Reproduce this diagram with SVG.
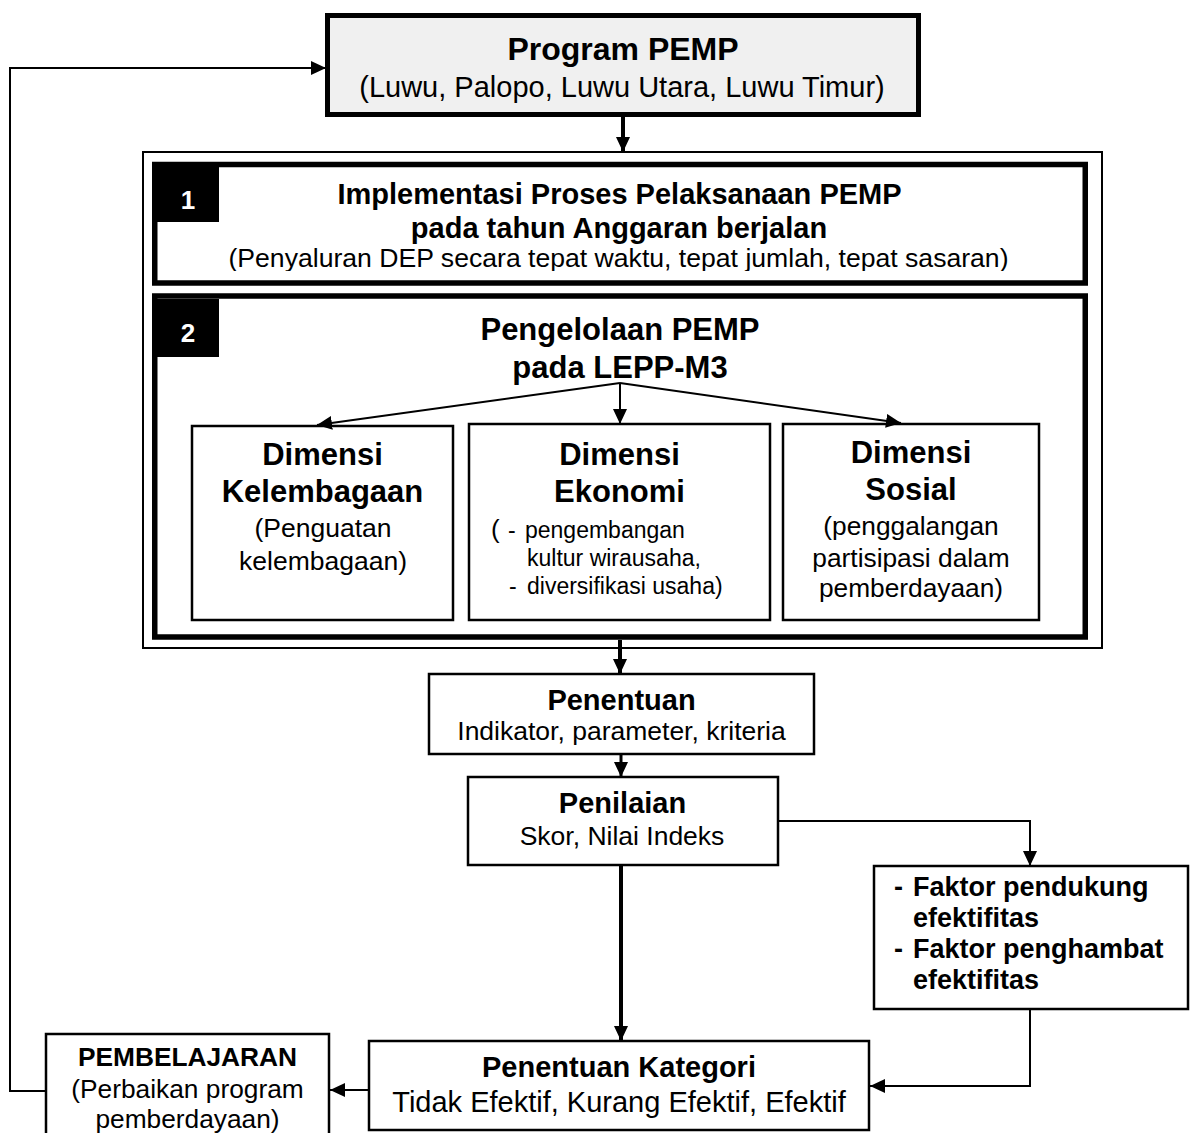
<svg xmlns="http://www.w3.org/2000/svg" width="1191" height="1133" viewBox="0 0 1191 1133">
<style>
text{font-family:"Liberation Sans",Arial,sans-serif;fill:#000}
.b{font-weight:bold}
.c{text-anchor:middle}
.box{fill:#fff;stroke:#000;stroke-width:2.5}
.thick{fill:#fff;stroke:#000;stroke-width:5.5}
.ln{fill:none;stroke:#000;stroke-width:2}
.ln3{fill:none;stroke:#000;stroke-width:3}
.ln4{fill:none;stroke:#000;stroke-width:4}
</style>
<defs>
<marker id="ah" markerUnits="userSpaceOnUse" markerWidth="15" markerHeight="14" refX="15" refY="7" orient="auto">
<path d="M0,0 L15,7 L0,14 z" fill="#000"/>
</marker>
<clipPath id="clip1"><rect x="157" y="167" width="925" height="104"/></clipPath>
</defs>
<rect width="1191" height="1133" fill="#fff"/>

<g id="frame">
<rect x="143" y="152" width="959" height="496" fill="#fff" stroke="#000" stroke-width="2"/>
</g>

<g id="program">
<rect x="327.5" y="15.5" width="591" height="99" fill="#f0f0f0" stroke="#000" stroke-width="5"/>
<text class="b c" x="623" y="60" font-size="32">Program PEMP</text>
<text class="c" x="622" y="97" font-size="29">(Luwu, Palopo, Luwu Utara, Luwu Timur)</text>
</g>

<g id="box1">
<rect class="thick" x="154.75" y="164.5" width="930.5" height="118.5"/>
<rect x="157" y="167" width="62" height="55" fill="#000"/>
<text class="b c" x="188" y="209" font-size="26" style="fill:#fff">1</text>
<text class="b c" x="619.5" y="204" font-size="29">Implementasi Proses Pelaksanaan PEMP</text>
<text class="b c" x="619" y="238" font-size="29">pada tahun Anggaran berjalan</text>
<text class="c" x="618.5" y="267" font-size="26.6" clip-path="url(#clip1)">(Penyaluran DEP secara tepat waktu, tepat jumlah, tepat sasaran)</text>
</g>

<g id="box2">
<rect class="thick" x="154.75" y="296" width="930.5" height="341"/>
<rect x="157" y="299" width="62" height="58" fill="#000"/>
<text class="b c" x="188" y="342" font-size="26" style="fill:#fff">2</text>
<text class="b c" x="620" y="340" font-size="31">Pengelolaan PEMP</text>
<text class="b c" x="620" y="378" font-size="31">pada LEPP-M3</text>
</g>

<g id="dim-kelembagaan">
<rect class="box" x="192" y="426" width="261" height="194"/>
<text class="b c" x="322.5" y="465" font-size="31">Dimensi</text>
<text class="b c" x="322.5" y="502" font-size="31">Kelembagaan</text>
<text class="c" x="323" y="537" font-size="26.5">(Penguatan</text>
<text class="c" x="323" y="570" font-size="26.5">kelembagaan)</text>
</g>

<g id="dim-ekonomi">
<rect class="box" x="469" y="424" width="301" height="196"/>
<text class="b c" x="619.5" y="465" font-size="31">Dimensi</text>
<text class="b c" x="619.5" y="502" font-size="31">Ekonomi</text>
<text x="491" y="538" font-size="26">(</text>
<text x="508" y="538" font-size="23">-</text>
<text x="525" y="538" font-size="23">pengembangan</text>
<text x="527" y="566" font-size="23">kultur wirausaha,</text>
<text x="509" y="594" font-size="23">-</text>
<text x="527" y="594" font-size="23">diversifikasi usaha)</text>
</g>

<g id="dim-sosial">
<rect class="box" x="783" y="424" width="256" height="196"/>
<text class="b c" x="911" y="463" font-size="31">Dimensi</text>
<text class="b c" x="911" y="500" font-size="31">Sosial</text>
<text class="c" x="911" y="535" font-size="26.3">(penggalangan</text>
<text class="c" x="911" y="567" font-size="26.3">partisipasi dalam</text>
<text class="c" x="911" y="597" font-size="26.3">pemberdayaan)</text>
</g>

<g id="penentuan">
<rect class="box" x="429" y="674" width="385" height="80"/>
<text class="b c" x="621.5" y="710" font-size="29">Penentuan</text>
<text class="c" x="621.5" y="740" font-size="26.5">Indikator, parameter, kriteria</text>
</g>

<g id="penilaian">
<rect class="box" x="468" y="777" width="310" height="88"/>
<text class="b c" x="622.5" y="813" font-size="29">Penilaian</text>
<text class="c" x="622" y="845" font-size="26.5">Skor, Nilai Indeks</text>
</g>

<g id="faktor">
<rect class="box" x="874" y="866" width="314" height="143"/>
<text class="b" x="894" y="896" font-size="27">-</text>
<text class="b" x="913" y="896" font-size="27">Faktor pendukung</text>
<text class="b" x="913" y="927" font-size="27">efektifitas</text>
<text class="b" x="894" y="958" font-size="27">-</text>
<text class="b" x="913" y="958" font-size="27">Faktor penghambat</text>
<text class="b" x="913" y="989" font-size="27">efektifitas</text>
</g>

<g id="kategori">
<rect class="box" x="369" y="1041" width="500" height="89"/>
<text class="b c" x="619" y="1077" font-size="29">Penentuan Kategori</text>
<text class="c" x="619" y="1112" font-size="29">Tidak Efektif, Kurang Efektif, Efektif</text>
</g>

<g id="pembelajaran">
<rect class="box" x="46" y="1034" width="283" height="110"/>
<text class="b c" x="187.5" y="1066" font-size="26.3">PEMBELAJARAN</text>
<text class="c" x="187.5" y="1098" font-size="26.3">(Perbaikan program</text>
<text class="c" x="187.5" y="1128" font-size="26.3">pemberdayaan)</text>
</g>

<g id="connectors">
<path class="ln" d="M45,1091 H10 V68 H326" marker-end="url(#ah)"/>
<path class="ln4" d="M623,117 V152" marker-end="url(#ah)"/>
<path class="ln" d="M620,383 L317,425" marker-end="url(#ah)"/>
<path class="ln" d="M620,383 V424" marker-end="url(#ah)"/>
<path class="ln" d="M620,383 L901,423" marker-end="url(#ah)"/>
<path class="ln4" d="M620,640 V674" marker-end="url(#ah)"/>
<path class="ln3" d="M621,755 V777" marker-end="url(#ah)"/>
<path class="ln4" d="M621,866 V1041" marker-end="url(#ah)"/>
<path class="ln" d="M779,821 H1030 V866" marker-end="url(#ah)"/>
<path class="ln" d="M1030,1010 V1086 H870" marker-end="url(#ah)"/>
<path class="ln" d="M368,1090 H330" marker-end="url(#ah)" stroke-width="2.5"/>
</g>
</svg>
